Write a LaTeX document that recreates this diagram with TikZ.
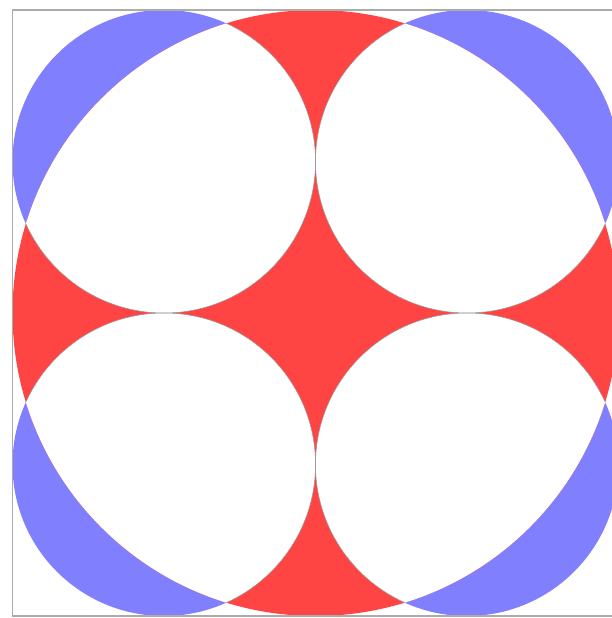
\documentclass[tikz,border=0pt]{standalone}
\definecolor{lunered}{RGB}{255,68,68}
\definecolor{luneblue}{RGB}{128,128,255}
\definecolor{edgegray}{RGB}{150,150,150}
\tikzset{
  edge/.style={draw=edgegray, line width=0.5pt},
  frame/.style={draw=edgegray!80, line width=1.5pt}
}
\begin{document}
\begin{tikzpicture}[x=1pt,y=-1pt]
\useasboundingbox (0,0) rectangle (612,618);
\clip (0,0) rectangle (612,618);
\fill[white] (0,0) rectangle (612,618);
\coordinate (O) at (315.5,313);
\coordinate (A) at (164,161.5);
\coordinate (B) at (467,161.5);
\coordinate (C) at (164,464.5);
\coordinate (D) at (467,464.5);
% blue: small circles
\foreach \p in {A,B,C,D} \fill[luneblue] (\p) circle (151.5);
% red: big circle
\fill[lunered] (O) circle (303);
% white: small circles inside big circle
\begin{scope}
  \clip (O) circle (303);
  \foreach \p in {A,B,C,D} \fill[white] (\p) circle (151.5);
\end{scope}
% thin outlines
\begin{scope}
  \clip (O) circle (303);
  \foreach \p in {A,B,C,D} \draw[edge] (\p) circle (151.5);
\end{scope}
\draw[frame] (12.5,10) rectangle (618.5,616);
\end{tikzpicture}
\end{document}
